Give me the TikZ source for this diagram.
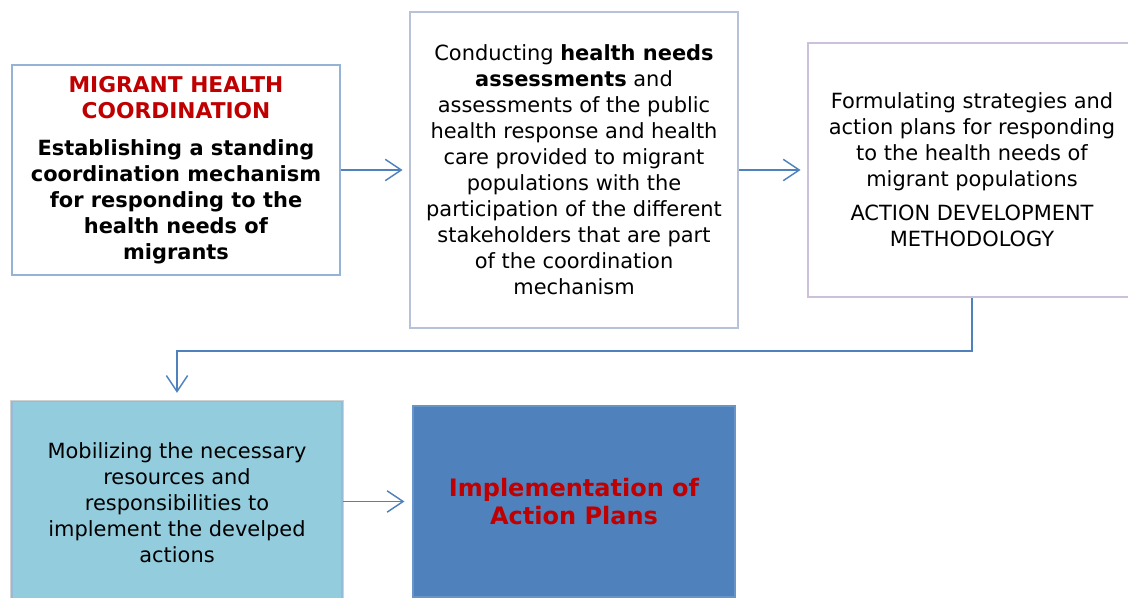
\documentclass[tikz,border=0pt]{standalone}
\usepackage{fontspec}
\setmainfont{DejaVu Sans}
\usetikzlibrary{arrows.meta,shadows}
\definecolor{linkblue}{HTML}{4F81BD}
\definecolor{titlered}{HTML}{C00000}
\definecolor{edgeone}{HTML}{95B3D7}
\definecolor{edgetwo}{HTML}{B7C1DA}
\definecolor{edgethree}{HTML}{CCC1DA}
\definecolor{mobfill}{HTML}{93CDDD}

\begin{document}
\begin{tikzpicture}[x=0.75pt,y=-0.75pt,
    stagebox/.style={rectangle,align=center,line width=1.2pt,minimum width=246pt,inner sep=4pt,
      font=\fontsize{15.7}{19.5}\selectfont},
    flow/.style={draw=linkblue,line width=1.1pt,-{Straight Barb[length=12pt,width=16pt,line width=1.1pt]}}]
  \useasboundingbox (0,0) rectangle (1128,598);
  \clip (0,0) rectangle (1128,598);
  \fill[white] (0,0) rectangle (1128,598);
  \node[stagebox,draw=edgeone,fill=white,minimum height=157.5pt] (coord) at (176,170)
    {\textcolor{titlered}{\textbf{\fontsize{16.3}{19.5}\selectfont MIGRANT HEALTH}}\\\textcolor{titlered}{\textbf{\fontsize{16.3}{19.5}\selectfont COORDINATION}}\\[8pt]
     \textbf{Establishing a standing}\\\textbf{coordination mechanism}\\\textbf{for responding to the}\\\textbf{health needs of}\\\textbf{migrants}};
  \node[stagebox,draw=edgetwo,fill=white,minimum height=237pt] (assess) at (574,170)
    {Conducting \textbf{health needs}\\\textbf{assessments} and\\assessments of the public\\health response and health\\care provided to migrant\\populations with the\\participation of the different\\stakeholders that are part\\of the coordination\\mechanism};
  \node[stagebox,draw=edgethree,fill=white,minimum height=190.5pt] (plans) at (972,170)
    {Formulating strategies and\\action plans for responding\\to the health needs of\\migrant populations\\[6pt]ACTION DEVELOPMENT\\METHODOLOGY};
  \node[stagebox,draw=edgeone!70!mobfill,fill=mobfill,minimum width=247.5pt,minimum height=152pt,
    general shadow={fill=black!18,shadow scale=1.012}] (mobil) at (177,503)
    {Mobilizing the necessary\\resources and\\responsibilities to\\implement the develped\\actions};
  \node[stagebox,draw=linkblue!85!white,line width=0.8pt,fill=linkblue,minimum width=241.5pt,minimum height=143.25pt,
    font=\fontsize{18}{21}\selectfont\bfseries,text=titlered] (impl) at (574,501.5)
    {Implementation of\\Action Plans};
  \draw[flow,shorten >=5pt] (coord) -- (assess);
  \draw[flow,shorten >=5pt] (assess) -- (plans);
  \draw[flow,shorten >=6pt] (mobil.east |- impl) -- (impl);
  \draw[flow,shorten >=6pt] (plans.south) -- ++(0,53) -| (mobil.north);
\end{tikzpicture}
\end{document}
